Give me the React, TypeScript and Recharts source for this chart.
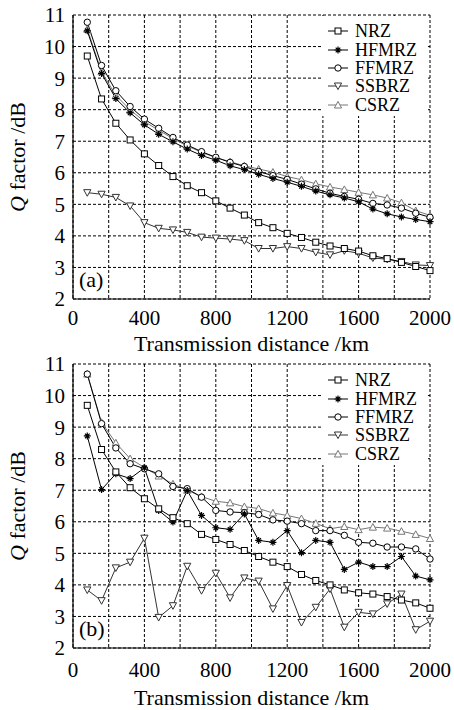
import React from "react"
import { LineChart, Line, XAxis, YAxis, CartesianGrid } from "recharts"

const distance = [80, 160, 240, 320, 400, 480, 560, 640, 720, 800, 880, 960, 1040, 1120, 1200, 1280, 1360, 1440, 1520, 1600, 1680, 1760, 1840, 1920, 2000]

// panel (a)
const nrzA = [9.7, 8.34, 7.57, 7.04, 6.6, 6.23, 5.88, 5.59, 5.37, 5.11, 4.88, 4.66, 4.42, 4.26, 4.08, 3.95, 3.8, 3.68, 3.6, 3.52, 3.37, 3.28, 3.16, 3.03, 2.9]
const hfmrzA = [10.5, 9.15, 8.35, 7.9, 7.52, 7.22, 6.98, 6.75, 6.55, 6.4, 6.22, 6.1, 5.95, 5.82, 5.7, 5.57, 5.42, 5.3, 5.2, 5.08, 4.85, 4.7, 4.6, 4.52, 4.45]
const ffmrzA = [10.77, 9.4, 8.6, 8.1, 7.7, 7.41, 7.12, 6.88, 6.67, 6.49, 6.33, 6.2, 6.04, 5.91, 5.79, 5.64, 5.49, 5.35, 5.25, 5.16, 5.03, 4.98, 4.88, 4.72, 4.59]
const ssbrzA = [5.37, 5.32, 5.22, 4.95, 4.42, 4.24, 4.19, 4.11, 3.96, 3.93, 3.9, 3.85, 3.6, 3.6, 3.66, 3.6, 3.48, 3.4, 3.53, 3.45, 3.3, 3.26, 3.19, 3.08, 3.06]
const csrzA = [10.55, 9.2, 8.45, 8.0, 7.62, 7.35, 7.08, 6.85, 6.65, 6.48, 6.35, 6.22, 6.12, 6.02, 5.88, 5.78, 5.65, 5.55, 5.47, 5.38, 5.3, 5.2, 5.05, 4.8, 4.65]

// panel (b)
const nrzB = [9.69, 8.29, 7.58, 7.08, 6.73, 6.41, 6.13, 5.94, 5.6, 5.44, 5.28, 5.09, 4.9, 4.72, 4.58, 4.33, 4.14, 4.0, 3.84, 3.75, 3.71, 3.63, 3.52, 3.43, 3.26]
const hfmrzB = [8.72, 7.02, 7.52, 7.37, 7.71, 6.36, 5.99, 6.99, 6.2, 5.81, 5.76, 6.25, 5.41, 5.35, 5.72, 5.02, 5.41, 5.35, 4.49, 4.72, 4.58, 4.58, 4.9, 4.28, 4.16]
const ffmrzB = [10.68, 9.11, 8.34, 7.84, 7.68, 7.52, 7.12, 7.05, 6.78, 6.36, 6.31, 6.29, 6.23, 6.06, 6.02, 5.94, 5.72, 5.72, 5.57, 5.35, 5.32, 5.2, 5.2, 5.14, 4.82]
const ssbrzB = [3.84, 3.5, 4.54, 4.72, 5.48, 2.97, 3.34, 4.59, 3.82, 4.37, 3.59, 4.22, 4.12, 3.24, 3.98, 2.81, 3.29, 3.87, 2.66, 3.13, 3.08, 3.4, 3.71, 2.58, 2.85]
const csrzB = [10.68, 9.15, 8.5, 8.0, 7.72, 7.45, 7.2, 7.0, 6.8, 6.65, 6.6, 6.48, 6.42, 6.28, 6.2, 6.1, 5.95, 5.78, 5.85, 5.75, 5.83, 5.8, 5.7, 5.6, 5.47]

const xTicks = [0, 200, 400, 600, 800, 1000, 1200, 1400, 1600, 1800, 2000]
const yTicks = [2, 3, 4, 5, 6, 7, 8, 9, 10, 11]
const seriesNames = ["NRZ", "HFMRZ", "FFMRZ", "SSBRZ", "CSRZ"]

const FONT = "'Liberation Serif', 'Times New Roman', serif"
const PLOT_H = 284

const Square = ({ cx, cy, s = "#000" }: any) => (
  <rect x={cx - 3} y={cy - 3} width={6} height={6} fill="#fff" stroke={s} strokeWidth={1} />
)
const Star = ({ cx, cy, s = "#000" }: any) => (
  <path
    d={`M${cx - 3.5},${cy}h7M${cx},${cy - 3.5}v7M${cx - 2.3},${cy - 2.3}l4.6,4.6M${cx - 2.3},${cy + 2.3}l4.6,-4.6`}
    stroke={s}
    strokeWidth={1.2}
    fill="none"
  />
)
const Circ = ({ cx, cy, s = "#000" }: any) => <circle cx={cx} cy={cy} r={3.2} fill="#fff" stroke={s} strokeWidth={1} />
const Down = ({ cx, cy, s = "#333" }: any) => (
  <polygon points={`${cx - 3.6},${cy - 3} ${cx + 3.6},${cy - 3} ${cx},${cy + 3.6}`} fill="#fff" stroke={s} strokeWidth={1} />
)
const Up = ({ cx, cy, s = "#666" }: any) => (
  <polygon points={`${cx - 3.6},${cy + 3} ${cx + 3.6},${cy + 3} ${cx},${cy - 3.6}`} fill="#fff" stroke={s} strokeWidth={1} />
)

const styles = [
  { key: "nrz", color: "#000", Mark: Square },
  { key: "hfmrz", color: "#000", Mark: Star },
  { key: "ffmrz", color: "#000", Mark: Circ },
  { key: "ssbrz", color: "#333", Mark: Down },
  { key: "csrz", color: "#777", Mark: Up },
]

const dotFn = (Mark: any, color: string) => (p: any) =>
  p.cx == null ? <g key={p.index} /> : <Mark key={p.index} cx={p.cx} cy={p.cy} s={color} />

// y: where the panel box starts on the page, top: margin above the plot inside it
function Panel({ series, tag, y, h, top, tickGap, titleY }: any) {
  const data = distance.map((d, i) => ({
    d,
    nrz: series[0][i],
    hfmrz: series[1][i],
    ffmrz: series[2][i],
    ssbrz: series[3][i],
    csrz: series[4][i],
  }))
  const xAxisH = h - top - PLOT_H
  return (
    <div style={{ position: "absolute", left: 0, top: y, width: 454, height: h, fontFamily: FONT }}>
      <LineChart width={454} height={h} data={data} margin={{ top, right: 24, left: 0, bottom: 0 }}>
        <CartesianGrid xAxisId="b" yAxisId="l" stroke="#000" strokeDasharray="3 2" strokeWidth={1} />
        <XAxis
          xAxisId="b"
          dataKey="d"
          type="number"
          domain={[0, 2000]}
          ticks={xTicks}
          interval={0}
          tickFormatter={(v: number) => (v % 400 === 0 ? String(v) : "")}
          height={xAxisH}
          tickLine={false}
          tickSize={0}
          tickMargin={tickGap}
          axisLine={{ stroke: "#000", strokeWidth: 1.2 }}
          tick={{ fill: "#000", fontSize: 21, fontFamily: FONT }}
          label={(props: any) => {
            const vb = props.viewBox
            return (
              <text x={vb.x + vb.width / 2} y={vb.y + titleY} textAnchor="middle" fill="#000" style={{ fontFamily: FONT, fontSize: 22 }}>
                Transmission distance /km
              </text>
            )
          }}
        />
        <XAxis
          xAxisId="t"
          orientation="top"
          dataKey="d"
          type="number"
          domain={[0, 2000]}
          ticks={xTicks}
          height={0}
          mirror
          tick={false}
          tickSize={4}
          tickLine={{ stroke: "#000" }}
          axisLine={{ stroke: "#000", strokeWidth: 1.2 }}
        />
        <YAxis
          yAxisId="l"
          domain={[2, 11]}
          ticks={yTicks}
          interval={0}
          width={73}
          tickLine={false}
          tickSize={0}
          tickMargin={8}
          axisLine={{ stroke: "#000", strokeWidth: 1.2 }}
          tick={{ fill: "#000", fontSize: 21, fontFamily: FONT }}
          label={(props: any) => {
            const vb = props.viewBox
            const cy = vb.y + vb.height / 2
            return (
              <text x={17} y={cy} transform={`rotate(-90 17 ${cy})`} textAnchor="middle" dominantBaseline="central" fill="#000" style={{ fontFamily: FONT, fontSize: 22 }}>
                <tspan fontStyle="italic">Q</tspan> factor /dB
              </text>
            )
          }}
        />
        <YAxis
          yAxisId="r"
          orientation="right"
          domain={[2, 11]}
          ticks={yTicks}
          width={0}
          mirror
          tick={false}
          tickSize={4}
          tickLine={{ stroke: "#000" }}
          axisLine={{ stroke: "#000", strokeWidth: 1.2 }}
        />
        {[4, 3, 2, 1, 0].map((i) => {
          const st = styles[i]
          return (
            <Line
              key={st.key}
              xAxisId="b"
              yAxisId="l"
              dataKey={st.key}
              type="linear"
              stroke={st.color}
              strokeWidth={1}
              dot={dotFn(st.Mark, st.color)}
              activeDot={false}
              isAnimationActive={false}
            />
          )
        })}
      </LineChart>
      <div
        style={{
          position: "absolute",
          left: 321,
          top: top + 1,
          width: 107,
          height: 100,
          background: "#fff",
          fontFamily: FONT,
          fontSize: 18,
          color: "#000",
          paddingTop: 6,
          boxSizing: "border-box",
        }}
      >
        {seriesNames.map((n, i) => {
          const st = styles[i]
          const M = st.Mark
          return (
            <div key={n} style={{ display: "flex", alignItems: "center", height: 18.4, lineHeight: "18px" }}>
              <svg width={26} height={12} style={{ marginLeft: 6, marginRight: 2 }}>
                <line x1={1} y1={6} x2={21} y2={6} stroke={st.color} strokeWidth={1} />
                <M cx={11} cy={6} s={st.color} />
              </svg>
              <span>{n}</span>
            </div>
          )
        })}
      </div>
      <div
        style={{
          position: "absolute",
          left: 79,
          top: top + PLOT_H - 33,
          fontFamily: FONT,
          fontSize: 22,
          lineHeight: "28px",
          color: "#000",
        }}
      >
        {tag}
      </div>
    </div>
  )
}

export default function App() {
  return (
    <div style={{ position: "absolute", left: 0, top: 0, width: 454, height: 710, background: "#fff" }}>
      <Panel series={[nrzA, hfmrzA, ffmrzA, ssbrzA, csrzA]} tag="(a)" y={0} h={355} top={15} tickGap={11} titleY={52} />
      <Panel series={[nrzB, hfmrzB, ffmrzB, ssbrzB, csrzB]} tag="(b)" y={343} h={367} top={21} tickGap={14} titleY={57} />
    </div>
  )
}
